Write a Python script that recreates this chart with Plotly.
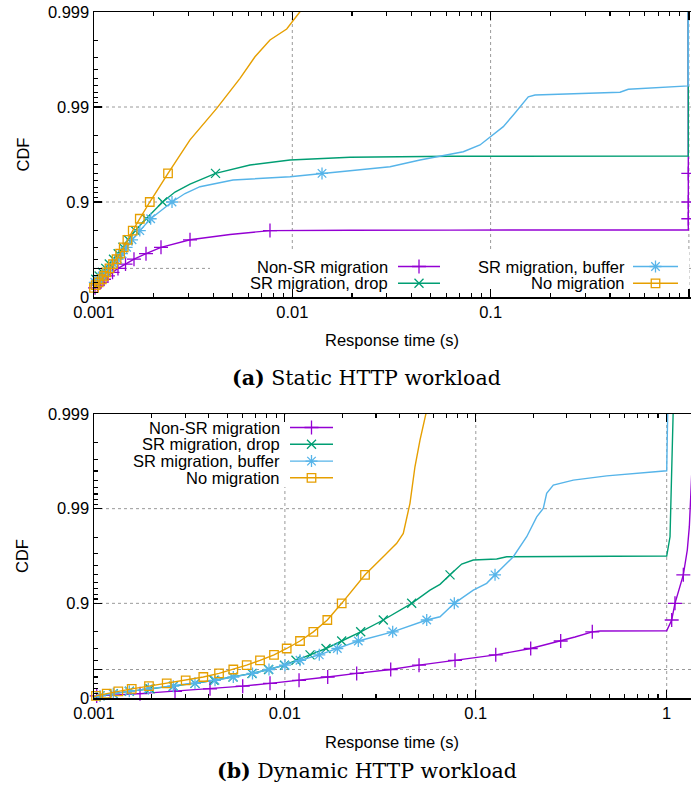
import numpy as np
import plotly.graph_objects as go

# ---------------- data ----------------
# markers sit on the CDF quantiles 0.05, 0.10, ..., 0.95
Q_ALL = [0.05, 0.10, 0.15, 0.20, 0.25, 0.30, 0.35, 0.40, 0.45, 0.50,
         0.55, 0.60, 0.65, 0.70, 0.75, 0.80, 0.85, 0.90, 0.95]
Q_A = Q_ALL[3:]          # static panel: quantiles 0.20 .. 0.95

SERIES = ["Non-SR migration", "SR migration, drop", "SR migration, buffer", "No migration"]

# (a) Static HTTP workload : response time (s) at each quantile of Q_A
a_nonsr_qx = [0.001012, 0.001042, 0.001078, 0.001123, 0.001176, 0.00124, 0.001321, 0.001442,
              0.001591, 0.001829, 0.002177, 0.003049, 0.007718, 0.993, 0.993, 0.993]
a_drop_qx = [0.00093, 0.00096, 0.00099, 0.001021, 0.001061, 0.001101, 0.001146, 0.001194,
             0.001254, 0.001324, 0.0014, 0.001489, 0.001614, 0.001833, 0.002218, 0.0041]
a_buf_qx = [0.00094, 0.00097, 0.001009, 0.001055, 0.001099, 0.001146, 0.001198, 0.001256,
            0.001318, 0.001384, 0.00146, 0.001555, 0.001702, 0.001931, 0.002474, 0.01412]
a_nomig_qx = [0.001, 0.00102, 0.001056, 0.001095, 0.001124, 0.001153, 0.001197, 0.001247,
              0.0013, 0.001354, 0.001412, 0.001474, 0.001568, 0.001702, 0.001911, 0.002362]
# extra curve points between / beyond the quantiles
a_nonsr_ex = [0.00097, 0.003846, 0.004851, 0.01093, 0.01954, 0.0624, 0.978, 0.993, 0.993]
a_nonsr_ep = [0.15, 0.767, 0.780, 0.8015, 0.802, 0.8025, 0.803, 0.8031, 0.9999]
a_drop_ex = [0.00088, 0.002562, 0.003049, 0.006119, 0.009737, 0.01954, 0.0624, 0.978, 0.993, 0.993]
a_drop_ep = [0.15, 0.9215, 0.935, 0.9592, 0.9639, 0.9662, 0.967, 0.9671, 0.9672, 0.9999]
a_buf_ex = [0.0009, 0.002877, 0.003423, 0.005023, 0.009737, 0.01954, 0.0311, 0.04406, 0.05347,
            0.07283, 0.08842, 0.1013, 0.1159, 0.1302, 0.1435, 0.1549, 0.1675, 0.2613, 0.4493,
            0.4948, 0.9747, 0.993, 0.993]
a_buf_ep = [0.15, 0.9186, 0.931, 0.9413, 0.9458, 0.9531, 0.9575, 0.9639, 0.9667,
            0.9704, 0.9749, 0.9798, 0.9839, 0.98787, 0.99047, 0.9922, 0.99252, 0.9927, 0.9930,
            0.99349, 0.99399, 0.9940, 0.9999]
a_nomig_ex = [0.00095, 0.003049, 0.004157, 0.005448, 0.006483, 0.007718, 0.009371, 0.01093, 0.0145]
a_nomig_ep = [0.15, 0.9778, 0.98967, 0.99501, 0.99704, 0.99803, 0.99849, 0.999007, 0.9995]

# (b) Dynamic HTTP workload : response time (s) at each quantile of Q_ALL
b_nonsr_qx = [0.001033, 0.001742, 0.002657, 0.004053, 0.006012, 0.008356, 0.01186, 0.01676,
              0.02377, 0.03583, 0.05042, 0.07783, 0.1272, 0.1939, 0.2784, 0.4076, 1.062, 1.105, 1.222]
b_drop_qx = [0.001075, 0.001262, 0.001531, 0.001965, 0.002603, 0.003381, 0.004253, 0.005347,
             0.006725, 0.008206, 0.009952, 0.01143, 0.01354, 0.01642, 0.01984, 0.02495, 0.03277,
             0.04615, 0.07328]
b_buf_qx = [0.001075, 0.001262, 0.001531, 0.001925, 0.002603, 0.003381, 0.004304, 0.005367,
            0.006766, 0.008256, 0.01001, 0.012, 0.01514, 0.01882, 0.02424, 0.0367, 0.05532,
            0.07718, 0.1261]
b_nomig_qx = [0.001024, 0.001166, 0.001341, 0.001576, 0.001941, 0.002404, 0.003022, 0.003738,
              0.004518, 0.005367, 0.006308, 0.007406, 0.008768, 0.01022, 0.012, 0.01409, 0.01668,
              0.01984, 0.02628]
b_nonsr_ex = [0.001, 0.3309, 0.4473, 1.0, 1.282, 1.314, 1.336, 1.357, 1.39]
b_nonsr_ep = [0.03, 0.773, 0.804, 0.8055, 0.97265, 0.9845, 0.99252, 0.9961, 0.9988]
b_drop_ex = [0.001, 0.05756, 0.06494, 0.08437, 0.09703, 0.1287, 0.1452, 1.0, 1.041, 1.083, 1.09]
b_drop_ep = [0.02, 0.9276, 0.937, 0.9615, 0.9651, 0.966, 0.9678, 0.96835, 0.9802, 0.999014, 0.9995]
b_buf_ex = [0.001, 0.06494, 0.09703, 0.114, 0.1572, 0.1848, 0.2085, 0.2257, 0.2351, 0.2547,
            0.3242, 0.485, 1.0, 1.012, 1.013]
b_buf_ep = [0.02, 0.8614, 0.9276, 0.9385, 0.9678, 0.9802, 0.9878, 0.99007, 0.99311, 0.99436,
            0.99501, 0.9955, 0.99602, 0.99902, 0.9995]
b_nomig_ex = [0.001, 0.03345, 0.03852, 0.0417, 0.0452, 0.048, 0.05101, 0.05483, 0.0575]
b_nomig_ep = [0.03, 0.9691, 0.9768, 0.98177, 0.99121, 0.99639, 0.99811, 0.999014, 0.9995]

# axis ticks
X_TICKS = [0.001, 0.01, 0.1, 1]
X_TICKTEXT = ["0.001", "0.01", "0.1", "1"]
Y_TICKS_P = [0.0, 0.5, 0.9, 0.99, 0.999]
Y_TICKTEXT = ["0", "", "0.9", "0.99", "0.999"]
X_GRID = [0.01, 0.1, 1]
Y_GRID_P = [0.5, 0.9, 0.99]

# ---------------- styles ----------------
COLORS = ["#9400d3", "#009e73", "#56b4e9", "#e69f00"]
SYMBOLS = ["cross-thin-open", "x-thin-open", "asterisk-open", "square-open"]
MSIZE = [10, 9, 10, 8.5]
W, H = 691, 796
FONT = "Liberation Sans, Arial, sans-serif"
GRID = dict(color="#9a9a9a", width=1, dash="dot")


def nines(p):
    p = np.asarray(p, dtype=float)
    return -np.log10(1.0 - p)


def curve(qx, q, ex, ep):
    pts = sorted(zip(list(q) + list(ep), list(qx) + list(ex)), key=lambda a: (a[0], a[1]))
    return [a[1] for a in pts], nines([a[0] for a in pts])


fig = go.Figure()

# pixel geometry of the two plot areas
A_LEFT, RIGHT = 94, W
A_TOP, A_BOT = 12, 297
B_TOP, B_BOT = 414, 698
A_DEC = 198.3   # px per decade (static)
B_DEC = 190.9   # px per decade (dynamic)
A_XMAX = (RIGHT - A_LEFT) / A_DEC - 3
B_XMAX = (RIGHT - A_LEFT) / B_DEC - 3
XDOM = [A_LEFT / W, 1]
A_YDOM = [1 - A_BOT / H, 1 - A_TOP / H]
B_YDOM = [1 - B_BOT / H, 1 - B_TOP / H]

panels = [
    ("x", "y", Q_A, A_XMAX, A_YDOM,
     [(a_nonsr_qx, a_nonsr_ex, a_nonsr_ep), (a_drop_qx, a_drop_ex, a_drop_ep),
      (a_buf_qx, a_buf_ex, a_buf_ep), (a_nomig_qx, a_nomig_ex, a_nomig_ep)]),
    ("x2", "y2", Q_ALL, B_XMAX, B_YDOM,
     [(b_nonsr_qx, b_nonsr_ex, b_nonsr_ep), (b_drop_qx, b_drop_ex, b_drop_ep),
      (b_buf_qx, b_buf_ex, b_buf_ep), (b_nomig_qx, b_nomig_ex, b_nomig_ep)]),
]

shapes = []
for xa, ya, q, xmax, ydom, data in panels:
    # dotted grid (drawn as shapes so the key boxes can hide parts of it)
    for gx in X_GRID:
        shapes.append(dict(type="line", xref=xa, yref="paper", x0=gx, x1=gx, y0=ydom[0], y1=ydom[1],
                           line=GRID, layer="below"))
    for gp in Y_GRID_P:
        gy = float(nines(gp))
        shapes.append(dict(type="line", xref="paper", yref=ya, x0=XDOM[0], x1=XDOM[1], y0=gy, y1=gy,
                           line=GRID, layer="below"))
    for si, (qx, ex, ep) in enumerate(data):
        lx, ly = curve(qx, q, ex, ep)
        fig.add_trace(go.Scatter(x=lx, y=ly, xaxis=xa, yaxis=ya, mode="lines",
                                 line=dict(color=COLORS[si], width=1.4),
                                 showlegend=False, hoverinfo="skip"))
        keep = [(x, p) for x, p in zip(qx, q) if x >= 0.001 and np.log10(x) <= xmax]
        fig.add_trace(go.Scatter(x=[k[0] for k in keep], y=nines([k[1] for k in keep]),
                                 xaxis=xa, yaxis=ya, mode="markers", cliponaxis=False,
                                 marker=dict(symbol=SYMBOLS[si], size=MSIZE[si], color=COLORS[si],
                                             line=dict(color=COLORS[si], width=1.3)),
                                 showlegend=False, hoverinfo="skip"))

# white key boxes (paper pixels) that hide the grid behind the keys
for bx0, bx1, by0, by1 in [(210, RIGHT - 2, 250, A_BOT - 1), (120, 340, B_TOP + 1, 487)]:
    shapes.append(dict(type="rect", xref="paper", yref="paper", layer="below",
                       x0=bx0 / W, x1=bx1 / W, y0=1 - by1 / H, y1=1 - by0 / H,
                       fillcolor="white", line=dict(width=0)))

# ---------------- custom gnuplot-style keys ----------------
key_a = [(0, 390, 398, 440, 266.5), (1, 390, 398, 440, 283.3),
         (2, 627, 633, 678, 266.5), (3, 627, 633, 678, 283.3)]
key_b = [(0, 282, 290, 333, 427.5), (1, 282, 290, 333, 444.3),
         (2, 282, 290, 333, 461.1), (3, 282, 290, 333, 477.8)]
annotations = []
for si, tx, l0, l1, yy in key_a + key_b:
    fig.add_trace(go.Scatter(x=[l0, l1], y=[yy, yy], xaxis="x3", yaxis="y3", mode="lines",
                             line=dict(color=COLORS[si], width=1.4), showlegend=False,
                             hoverinfo="skip"))
    fig.add_trace(go.Scatter(x=[(l0 + l1) / 2], y=[yy], xaxis="x3", yaxis="y3", mode="markers",
                             marker=dict(symbol=SYMBOLS[si], size=MSIZE[si], color=COLORS[si],
                                         line=dict(color=COLORS[si], width=1.3)),
                             showlegend=False, hoverinfo="skip"))
    annotations.append(dict(x=tx / W, y=1 - yy / H, xref="paper", yref="paper", text=SERIES[si],
                            showarrow=False, xanchor="right", yanchor="middle",
                            font=dict(family=FONT, size=16.5, color="black")))

# axis titles and captions
for ycen, xt_y, cap_y, cap in [((A_TOP + A_BOT) / 2, 340, 378, "<b>(a)</b> Static HTTP workload"),
                               ((B_TOP + B_BOT) / 2, 742, 771, "<b>(b)</b> Dynamic HTTP workload")]:
    annotations.append(dict(x=22 / W, y=1 - ycen / H, xref="paper", yref="paper", text="CDF",
                            textangle=-90, showarrow=False, xanchor="center", yanchor="middle",
                            font=dict(family=FONT, size=16.5, color="black")))
    annotations.append(dict(x=392 / W, y=1 - xt_y / H, xref="paper", yref="paper",
                            text="Response time (s)", showarrow=False, xanchor="center",
                            yanchor="middle", font=dict(family=FONT, size=16.5, color="black")))
    annotations.append(dict(x=367 / W, y=1 - cap_y / H, xref="paper", yref="paper", text=cap,
                            showarrow=False, xanchor="center", yanchor="middle",
                            font=dict(family="DejaVu Serif, serif", size=20.5, color="black")))

# minor ticks
x_minor = [m * 10.0 ** e for e in range(-3, 1) for m in range(2, 10)]
y_minor_p = [1 - m * 10.0 ** e for e in (-1, -2, -3) for m in range(2, 10)]
y_minor_p = [p for p in y_minor_p if abs(p - 0.5) > 1e-9]


def xaxis(xmax, anchor):
    return dict(type="log", range=[-3, xmax], domain=XDOM, anchor=anchor, tickmode="array",
                tickvals=X_TICKS, ticktext=X_TICKTEXT, ticks="inside", ticklen=8, tickwidth=1.2,
                tickcolor="black", showline=True, linecolor="black", linewidth=1.5,
                mirror="allticks", showgrid=False, zeroline=False, automargin=False,
                tickfont=dict(family=FONT, size=16.5, color="black"),
                minor=dict(tickmode="array", tickvals=x_minor, ticks="inside", ticklen=4,
                           tickwidth=1.1, tickcolor="black", showgrid=False))


def yaxis(dom, anchor):
    return dict(range=[0, 3], domain=dom, anchor=anchor, tickmode="array",
                tickvals=list(nines(Y_TICKS_P)), ticktext=Y_TICKTEXT, ticks="inside", ticklen=8,
                tickwidth=1.2, tickcolor="black", showline=True, linecolor="black", linewidth=1.5,
                mirror=False, showgrid=False, zeroline=False, automargin=False,
                tickfont=dict(family=FONT, size=16.5, color="black"),
                minor=dict(tickmode="array", tickvals=list(nines(y_minor_p)), ticks="inside",
                           ticklen=4, tickwidth=1.1, tickcolor="black", showgrid=False))


fig.update_layout(
    template="none",
    width=W, height=H, margin=dict(l=0, r=0, t=0, b=0, pad=0, autoexpand=False),
    paper_bgcolor="white", plot_bgcolor="rgba(0,0,0,0)",
    xaxis=xaxis(A_XMAX, "y"), yaxis=yaxis(A_YDOM, "x"),
    xaxis2=xaxis(B_XMAX, "y2"), yaxis2=yaxis(B_YDOM, "x2"),
    xaxis3=dict(domain=[0, 1], range=[0, W], visible=False, anchor="y3", fixedrange=True,
                automargin=False),
    yaxis3=dict(domain=[0, 1], range=[H, 0], visible=False, anchor="x3", fixedrange=True,
                automargin=False),
    annotations=annotations, shapes=shapes, showlegend=False,
)

fig.write_html("out.html", config={"displayModeBar": False, "staticPlot": True},
               post_script="document.body.style.margin='0px';")
